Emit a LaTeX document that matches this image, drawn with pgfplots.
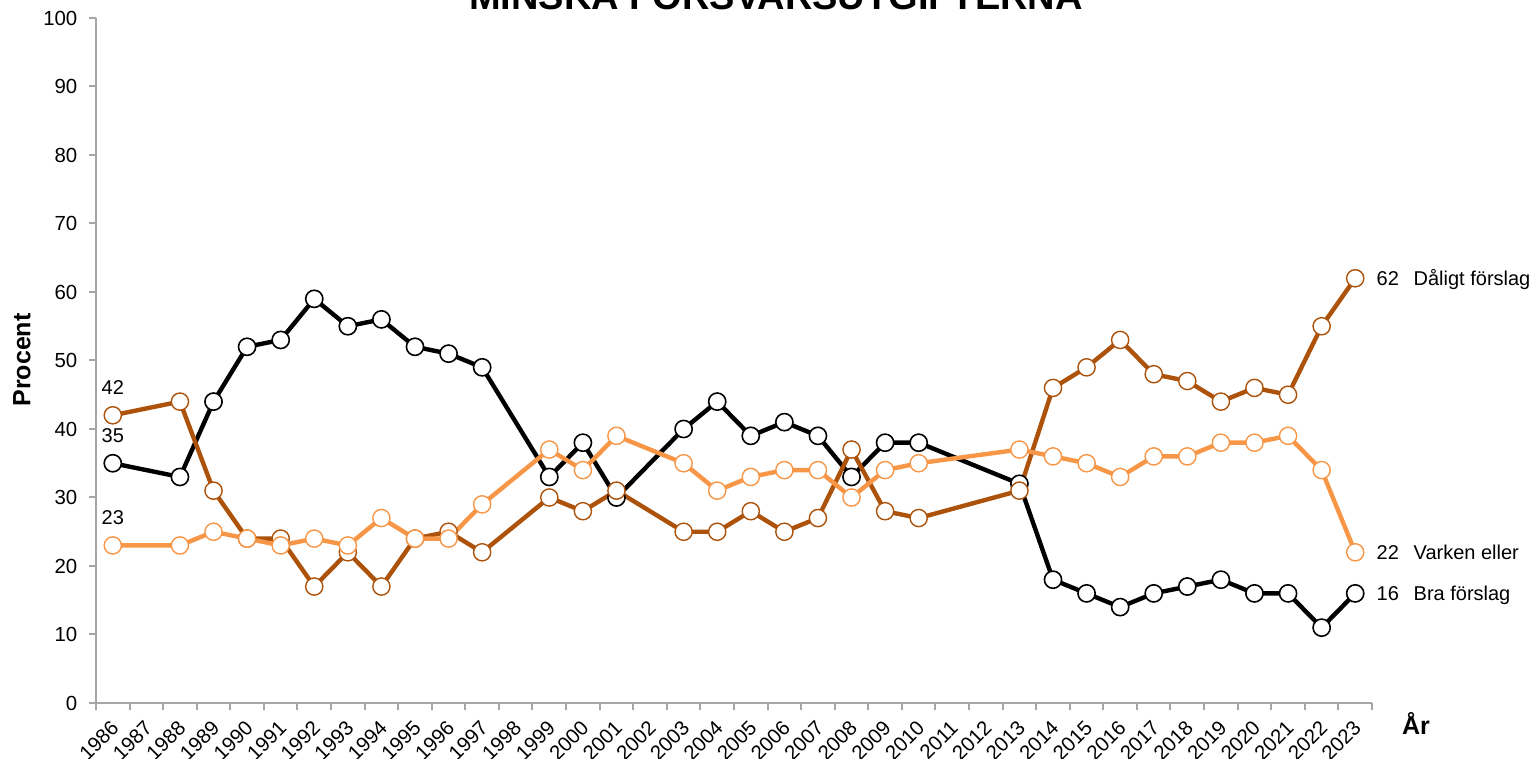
\documentclass[border=0pt]{standalone}
\usepackage{fontspec}
\setmainfont{Liberation Sans}
\usepackage{pgfplots}
\usepackage{pgfplotstable}
\pgfplotsset{compat=1.18}

\definecolor{daligt}{RGB}{172,82,10}
\definecolor{varken}{RGB}{247,150,70}
\definecolor{axgray}{RGB}{166,166,166}

% Bra förslag / Dåligt förslag / Varken eller, procent
\pgfplotstableread{
year bra daligt varken
1986 35 42 23
1988 33 44 23
1989 44 31 25
1990 52 24 24
1991 53 24 23
1992 59 17 24
1993 55 22 23
1994 56 17 27
1995 52 24 24
1996 51 25 24
1997 49 22 29
1999 33 30 37
2000 38 28 34
2001 30 31 39
2003 40 25 35
2004 44 25 31
2005 39 28 33
2006 41 25 34
2007 39 27 34
2008 33 37 30
2009 38 28 34
2010 38 27 35
2013 32 31 37
2014 18 46 36
2015 16 49 35
2016 14 53 33
2017 16 48 36
2018 17 47 36
2019 18 44 38
2020 16 46 38
2021 16 45 39
2022 11 55 34
2023 16 62 22
}\data

\begin{document}
\begin{tikzpicture}
\begin{axis}[
    at={(0pt,0pt)}, anchor=south west,
    scale only axis,
    width=638pt, height=342.5pt,
    xmin=1985.5, xmax=2023.5,
    ymin=0, ymax=100,
    axis x line*=bottom, axis y line*=left,
    axis line style={axgray, line width=1pt, -},
    tick align=outside,
    tick style={axgray, line width=1pt},
    major tick length=3.3pt,
    minor tick length=3.5pt,
    xtick={1986,...,2023},
    major x tick style={draw=none},
    minor xtick={1985.5,1986.5,...,2023.5},
    ytick={0,10,...,100},
    /pgf/number format/assume math mode=true,
    /pgf/number format/1000 sep={},
    tick label style={font=\fontsize{10.2}{12}\selectfont},
    xticklabel style={xshift=-1.5pt, yshift=-3pt, rotate=45, anchor=north east, inner sep=1pt},
    yticklabel style={xshift=-2.5pt},
    clip=false,
]
\addplot[black, line width=2.2pt, mark=*, mark size=4.3pt,
    mark options={fill=white, draw=black, line width=0.8pt}]
    table[x=year, y=bra] {\data};
\addplot[daligt, line width=2.2pt, mark=*, mark size=4.3pt,
    mark options={fill=white, draw=daligt, line width=0.7pt}]
    table[x=year, y=daligt] {\data};
\addplot[varken, line width=2.2pt, mark=*, mark size=4.3pt,
    mark options={fill=white, draw=varken, line width=0.7pt}]
    table[x=year, y=varken] {\data};

\node[anchor=base, yshift=10.5pt, font=\fontsize{10}{12}\selectfont] at (axis cs:1986,42) {42};
\node[anchor=base, yshift=10.5pt, font=\fontsize{10}{12}\selectfont] at (axis cs:1986,35) {35};
\node[anchor=base, yshift=10.5pt, font=\fontsize{10}{12}\selectfont] at (axis cs:1986,23) {23};

\node[anchor=base west, xshift=7.2pt, yshift=-3.6pt, font=\fontsize{10}{12}\selectfont] at (axis cs:2023,62) {62};
\node[anchor=base west, xshift=25.7pt, yshift=-3.6pt, font=\fontsize{10}{12}\selectfont] at (axis cs:2023,62) {Dåligt förslag};
\node[anchor=base west, xshift=7.2pt, yshift=-3.6pt, font=\fontsize{10}{12}\selectfont] at (axis cs:2023,22) {22};
\node[anchor=base west, xshift=25.7pt, yshift=-3.6pt, font=\fontsize{10}{12}\selectfont] at (axis cs:2023,22) {Varken eller};
\node[anchor=base west, xshift=7.2pt, yshift=-3.6pt, font=\fontsize{10}{12}\selectfont] at (axis cs:2023,16) {16};
\node[anchor=base west, xshift=25.7pt, yshift=-3.6pt, font=\fontsize{10}{12}\selectfont] at (axis cs:2023,16) {Bra förslag};
\end{axis}

\node[anchor=base, font=\bfseries\fontsize{19}{22}\selectfont] at (340pt,346.5pt) {MINSKA FÖRSVARSUTGIFTERNA};
\node[rotate=90, font=\bfseries\fontsize{12.5}{14}\selectfont] at (-37pt,171.5pt) {Procent};
\node[anchor=base, font=\bfseries\fontsize{12.5}{14}\selectfont] at (660pt,-16pt) {År};

\pgfresetboundingbox
\useasboundingbox (-48pt,-28pt) rectangle (717pt,351.5pt);
\end{tikzpicture}
\end{document}
